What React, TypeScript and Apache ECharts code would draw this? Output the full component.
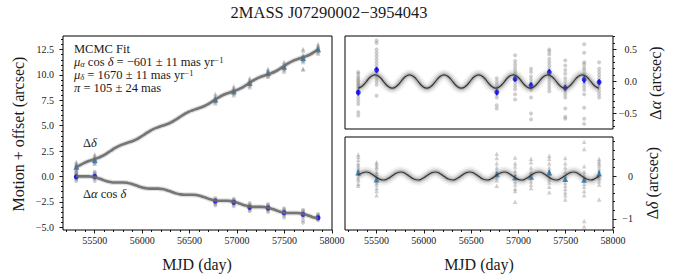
import React, { useEffect, useRef } from 'react';
import * as echarts from 'echarts';

const FONT = 'Liberation Serif';

// ---- data ----
const epochs = [55306, 55500, 56771, 56965, 57133, 57326, 57495, 57695, 57853];

// left panel (motion + offset)
const decLeft = [0.96, 1.62, 7.58, 8.4, 9.22, 10.2, 10.8, 11.67, 12.53];
const raLeft = [-0.03, 0.0, -2.42, -2.54, -3.04, -3.1, -3.57, -3.73, -4.06];
const decGrayLeft = [
  [1.45, 1.3, 1.2, 1.1, 1.02, 0.95, 0.88, 0.8, 0.7, 0.55],
  [2.2, 2.05, 1.9, 1.8, 1.7, 1.62, 1.55, 1.45, 1.35, 1.25],
  [8.15, 7.95, 7.8, 7.7, 7.6, 7.52, 7.45, 7.35, 7.22],
  [8.9, 8.75, 8.6, 8.5, 8.42, 8.35, 8.25, 8.15, 8.0],
  [9.7, 9.55, 9.42, 9.32, 9.25, 9.17, 9.08, 8.95, 8.8],
  [10.62, 10.5, 10.38, 10.3, 10.22, 10.15, 10.05, 9.92, 9.82],
  [11.3, 11.12, 10.98, 10.88, 10.8, 10.72, 10.62, 10.5, 10.35],
  [12.55, 12.4, 12.0, 11.85, 11.75, 11.68, 11.6, 11.5, 11.4, 11.28, 10.62, 10.55],
  [13.05, 12.9, 12.8, 12.7, 12.62, 12.55, 12.48, 12.38, 12.25, 12.12],
];
const raGrayLeft = [
  [0.45, 0.3, 0.2, 0.12, 0.05, -0.02, -0.1, -0.18, -0.28, -0.45],
  [0.48, 0.35, 0.25, 0.15, 0.08, 0.02, -0.05, -0.12, -0.22, -0.45],
  [-2.12, -2.25, -2.32, -2.38, -2.43, -2.5, -2.58, -2.7, -2.85],
  [-2.2, -2.3, -2.4, -2.46, -2.52, -2.58, -2.65, -2.78, -2.93],
  [-2.62, -2.75, -2.85, -2.95, -3.02, -3.08, -3.15, -3.3, -3.42],
  [-2.7, -2.82, -2.92, -3.0, -3.07, -3.14, -3.22, -3.35, -3.5],
  [-3.12, -3.25, -3.38, -3.48, -3.55, -3.62, -3.7, -3.85, -4.05],
  [-3.28, -3.4, -3.52, -3.62, -3.7, -3.78, -3.86, -4.0, -4.3, -4.55],
  [-3.68, -3.8, -3.9, -3.98, -4.05, -4.12, -4.2, -4.3],
];

// right top (parallax in RA)
const raResid = [-0.17, 0.18, -0.165, 0.04, -0.06, 0.145, -0.1, 0.03, -0.01];
const raResidErr = [0.05, 0.05, 0.05, 0.045, 0.05, 0.05, 0.05, 0.055, 0.05];
const raGray = [
  [0.15, 0.12, 0.08, 0.05, 0.02, 0, -0.03, -0.05, -0.08, -0.1, -0.13, -0.15, -0.2, -0.25, -0.3, -0.35, -0.48, -0.53],
  [0.64, 0.6, 0.5, 0.45, 0.4, 0.35, 0.3, 0.25, 0.2, 0.15, 0.1, 0.05, 0.0, -0.05, -0.22],
  [0.05, 0.0, -0.05, -0.1, -0.15, -0.2, -0.25, -0.37, -0.42],
  [0.41, 0.32, 0.27, 0.22, 0.17, 0.12, 0.08, 0.03, -0.02, -0.07, -0.12, -0.2, -0.28],
  [0.2, 0.15, 0.08, 0.03, -0.02, -0.08, -0.13, -0.25, -0.5, -0.59],
  [0.5, 0.47, 0.42, 0.35, 0.3, 0.25, 0.2, 0.15, 0.1, 0.05, 0, -0.05, -0.1, -0.15],
  [0.33, 0.25, 0.18, 0.12, 0.05, 0, -0.05, -0.1, -0.15, -0.2, -0.25, -0.42, -0.55, -0.58],
  [0.58, 0.45, 0.3, 0.27, 0.22, 0.18, 0.12, 0.07, 0.02, -0.03, -0.08, -0.13, -0.2, -0.41, -0.58, -0.66],
  [0.3, 0.2, 0.15, 0.1, 0.05, 0.0, -0.05, -0.1, -0.15, -0.2, -0.25],
];

// right bottom (parallax in Dec)
const decResid = [0.08, -0.08, 0.04, -0.03, -0.015, 0.08, -0.07, -0.09, 0.06];
const decResidErr = [0.06, 0.06, 0.05, 0.05, 0.05, 0.06, 0.05, 0.05, 0.06];
const decGray = [
  [0.5, 0.45, 0.38, 0.3, 0.25, 0.2, 0.15, 0.1, 0.05, 0, -0.05, -0.1, -0.18, -0.23],
  [0.32, 0.28, 0.22, 0.18, 0.1, 0.05, 0, -0.05, -0.1, -0.15, -0.2, -0.28, -0.35, -0.45],
  [0.52, 0.42, 0.3, 0.2, 0.12, 0.05, -0.03, -0.1, -0.23],
  [0.43, 0.3, 0.22, 0.12, 0.05, -0.05, -0.12, -0.2, -0.3, -0.35, -0.6],
  [0.4, 0.32, 0.2, 0.1, 0.05, 0, -0.05, -0.12, -0.2, -0.28],
  [0.47, 0.4, 0.3, 0.2, 0.12, 0.05, 0, -0.08, -0.15, -0.25, -0.38],
  [0.42, 0.3, 0.2, 0.1, 0, -0.08, -0.15, -0.22, -0.3, -0.38, -0.45, -0.55],
  [0.8, 0.63, 0.23, 0.1, 0.02, -0.05, -0.1, -0.18, -0.25, -0.35, -0.45, -1.05, -1.18],
  [0.4, 0.35, 0.3, 0.25, 0.18, 0.12, 0.05, 0, -0.05, -0.12, -0.2, -0.55],
];

// MCMC model curves (read at eighth-year steps)
const modelMJD = [55306, 55346, 55392, 55437,
  55483, 55529, 55574, 55620, 55666, 55711, 55757, 55803,
  55848, 55894, 55940, 55985, 56031, 56077, 56122, 56168,
  56213, 56259, 56305, 56350, 56396, 56442, 56487, 56533,
  56579, 56624, 56670, 56716, 56761, 56807, 56853, 56898,
  56944, 56990, 57035, 57081, 57127, 57172, 57218, 57264,
  57309, 57355, 57401, 57446, 57492, 57538, 57583, 57629,
  57674, 57720, 57766, 57811, 57853];
const modelRaResid = [-0.103, -0.074, 0, 0.074,
  0.104, 0.074, 0, -0.074, -0.104, -0.074, 0, 0.074,
  0.104, 0.074, 0, -0.074, -0.104, -0.074, 0, 0.074,
  0.104, 0.074, 0, -0.074, -0.104, -0.074, 0, 0.074,
  0.104, 0.074, 0, -0.074, -0.104, -0.074, 0, 0.074,
  0.104, 0.074, 0, -0.074, -0.104, -0.074, 0, 0.074,
  0.104, 0.074, 0, -0.074, -0.104, -0.074, 0, 0.074,
  0.104, 0.074, 0, -0.074, -0.104];
const modelDecResid = [0.022, 0.071, 0.093, 0.06,
  -0.007, -0.071, -0.093, -0.06, 0.007, 0.071, 0.093, 0.06,
  -0.007, -0.071, -0.093, -0.06, 0.007, 0.071, 0.093, 0.06,
  -0.007, -0.071, -0.093, -0.06, 0.007, 0.071, 0.093, 0.06,
  -0.007, -0.071, -0.093, -0.06, 0.007, 0.071, 0.093, 0.06,
  -0.007, -0.071, -0.093, -0.06, 0.007, 0.071, 0.093, 0.06,
  -0.007, -0.071, -0.093, -0.06, 0.007, 0.071, 0.093, 0.06,
  -0.007, -0.071, -0.093, -0.06, 0.007];
const modelRaTotal = [0.047, 0.01, 0.009, 0.008,
  -0.037, -0.142, -0.291, -0.441, -0.546, -0.591, -0.592, -0.593,
  -0.638, -0.743, -0.892, -1.041, -1.146, -1.192, -1.193, -1.194,
  -1.239, -1.344, -1.493, -1.642, -1.747, -1.792, -1.794, -1.795,
  -1.84, -1.945, -2.094, -2.243, -2.348, -2.393, -2.394, -2.395,
  -2.441, -2.546, -2.695, -2.844, -2.949, -2.994, -2.995, -2.996,
  -3.041, -3.147, -3.296, -3.445, -3.55, -3.595, -3.596, -3.597,
  -3.642, -3.747, -3.896, -4.046, -4.144];
const modelDecTotal = [0.882, 1.114, 1.345, 1.521,
  1.662, 1.807, 1.994, 2.235, 2.511, 2.784, 3.015, 3.19,
  3.332, 3.477, 3.664, 3.905, 4.181, 4.454, 4.685, 4.86,
  5.002, 5.147, 5.334, 5.575, 5.851, 6.124, 6.355, 6.53,
  6.672, 6.817, 7.004, 7.245, 7.521, 7.794, 8.024, 8.2,
  8.342, 8.487, 8.673, 8.915, 9.191, 9.464, 9.694, 9.87,
  10.012, 10.157, 10.343, 10.585, 10.861, 11.134, 11.364, 11.54,
  11.682, 11.827, 12.013, 12.255, 12.512];

// ticks
const xMajor = [55500, 56000, 56500, 57000, 57500, 58000];
const xMinor = [55200, 55300, 55400, 55600, 55700, 55800, 55900, 56100, 56200, 56300, 56400, 56600, 56700, 56800, 56900, 57100, 57200, 57300, 57400, 57600, 57700, 57800, 57900];
const leftYMajor = [-5, -2.5, 0, 2.5, 5, 7.5, 10, 12.5];
const leftYMinor = [-4.5, -4, -3.5, -3, -2, -1.5, -1, -0.5, 0.5, 1, 1.5, 2, 3, 3.5, 4, 4.5, 5.5, 6, 6.5, 7, 8, 8.5, 9, 9.5, 10.5, 11, 11.5, 12, 13, 13.5];
const topYMajor = [-0.5, 0, 0.5];
const topYMinor = [-0.7, -0.6, -0.4, -0.3, -0.2, -0.1, 0.1, 0.2, 0.3, 0.4, 0.6, 0.7];
const botYMajor = [-1, 0];
const botYMinor = [-1.2, -0.8, -0.6, -0.4, -0.2, 0.2, 0.4, 0.6, 0.8];

const X_MIN = 55166;
const X_MAX = 58000;

const GRAY = 'rgba(120,120,120,0.45)';
const TAB_BLUE = '#1f77b4';
const BLUE = '#0000ff';
const INK = '#1a1a1a';
const SMOOTH = 0.5;

const fmt1 = (v: number) => (v < 0 ? '\u2212' : '') + Math.abs(v).toFixed(1);
const fmt0 = (v: number) => (v < 0 ? '\u2212' : '') + Math.abs(v).toFixed(0);

const pairs = (xs: number[], ys: number[]) => xs.map((x, i) => [x, ys[i]]);
const grayPts = (lists: number[][]) => lists.flatMap((l, i) => l.map((v) => [epochs[i], v]));
const errPts = (ys: number[], es: number[]) => epochs.map((x, i) => [x, ys[i], es[i]]);

const tickLine = { color: '#000', width: 0.9 };
const labelStyle = { fontSize: 10, color: INK, fontFamily: FONT };

function xAxes(grid: number, labels: boolean) {
  return [
    {
      type: 'value', gridIndex: grid, min: X_MIN, max: X_MAX, position: 'bottom',
      axisLine: { show: false, onZero: false }, splitLine: { show: false },
      axisTick: { show: true, length: 3.5, customValues: xMajor, lineStyle: tickLine },
      axisLabel: labels
        ? { show: true, customValues: xMajor, margin: 5, ...labelStyle, formatter: (v: number) => String(v) }
        : { show: false },
    },
    {
      type: 'value', gridIndex: grid, min: X_MIN, max: X_MAX, position: 'bottom',
      axisLine: { show: false, onZero: false }, splitLine: { show: false },
      axisTick: { show: true, length: 2, customValues: xMinor, lineStyle: tickLine },
      axisLabel: { show: false },
    },
  ];
}

function yAxes(grid: number, pos: string, min: number, max: number, major: number[], minor: number[], fmt: (v: number) => string, margin: number, align: string) {
  return [
    {
      type: 'value', gridIndex: grid, min, max, position: pos,
      axisLine: { show: false, onZero: false }, splitLine: { show: false },
      axisTick: { show: true, length: 3.5, customValues: major, lineStyle: tickLine },
      axisLabel: { show: true, customValues: major, margin, align, ...labelStyle, formatter: fmt },
    },
    {
      type: 'value', gridIndex: grid, min, max, position: pos,
      axisLine: { show: false, onZero: false }, splitLine: { show: false },
      axisTick: { show: true, length: 2, customValues: minor, lineStyle: tickLine },
      axisLabel: { show: false },
    },
  ];
}

function errorBars(name: string, xi: number, yi: number, data: number[][], color: string) {
  return {
    type: 'custom', name, xAxisIndex: xi, yAxisIndex: yi, data, encode: { x: 0, y: 1 },
    renderItem: (params: any, api: any) => {
      const x = api.value(0);
      const y = api.value(1);
      const e = api.value(2);
      const p1 = api.coord([x, y - e]);
      const p2 = api.coord([x, y + e]);
      return { type: 'line', shape: { x1: p1[0], y1: p1[1], x2: p2[0], y2: p2[1] }, style: { stroke: color, lineWidth: 1.6 } };
    },
  };
}

function modelBand(xi: number, yi: number, data: number[][]) {
  const base = { type: 'line', xAxisIndex: xi, yAxisIndex: yi, data, smooth: SMOOTH, showSymbol: false, symbol: 'none', silent: true };
  return [
    { ...base, lineStyle: { width: 11, color: 'rgba(128,128,128,0.10)' } },
    { ...base, lineStyle: { width: 7, color: 'rgba(120,120,120,0.18)' } },
    { ...base, lineStyle: { width: 4, color: 'rgba(110,110,110,0.30)' } },
    { ...base, lineStyle: { width: 1.2, color: '#333' } },
  ];
}

function leftModel(data: number[][]) {
  const base = { type: 'line', xAxisIndex: 0, yAxisIndex: 0, data, smooth: SMOOTH, showSymbol: false, symbol: 'none', silent: true };
  return [
    { ...base, lineStyle: { width: 5, color: 'rgba(128,128,128,0.25)' } },
    { ...base, lineStyle: { width: 2.6, color: 'rgba(105,105,105,0.9)' } },
  ];
}

const MFS = 12.5;
const LH = 13;
const richMath = {
  i: { fontStyle: 'italic', fontFamily: FONT, fontSize: MFS, lineHeight: LH, fill: INK },
  n: { fontFamily: FONT, fontSize: MFS, lineHeight: LH, fill: INK },
  sub: { fontStyle: 'italic', fontFamily: FONT, fontSize: 8.5, lineHeight: 8, verticalAlign: 'bottom', fill: INK },
  sup: { fontFamily: FONT, fontSize: 8.5, lineHeight: 8, verticalAlign: 'top', fill: INK },
};

function txt(x: number, y: number, text: string, vAlign = 'middle') {
  return {
    type: 'text', x, y, silent: true,
    style: {
      text, fontFamily: FONT, fontSize: MFS, fill: INK, lineHeight: LH,
      align: 'left', verticalAlign: vAlign, rich: richMath,
    },
  };
}

function plain(x: number, y: number, text: string, fontSize: number, extra: any = {}) {
  const { align, ...rest } = extra;
  return {
    type: 'text', x, y, silent: true, ...rest,
    style: { text, fontFamily: FONT, fontSize, lineHeight: fontSize, fill: INK, align: align || 'left', verticalAlign: 'middle' },
  };
}

function rotName(x: number, y: number, greek: string) {
  return {
    type: 'text', x, y, rotation: Math.PI / 2, silent: true,
    style: {
      text: `{n|\u0394}{i|${greek}}{n| (arcsec)}`, align: 'center', verticalAlign: 'middle', fontFamily: FONT, fontSize: 16, fill: INK,
      rich: { n: { fontFamily: FONT, fontSize: 16, fill: INK }, i: { fontFamily: FONT, fontSize: 16, fontStyle: 'italic', fill: INK } },
    },
  };
}

const fitText = [
  '{n|MCMC Fit}',
  '{i|\u03bc}{sub|\u03b1}{n| cos }{i|\u03b4}{n| = \u2212601 \u00b1 11 mas yr}{sup|\u22121}',
  '{i|\u03bc}{sub|\u03b4}{n| = 1670 \u00b1 11 mas yr}{sup|\u22121}',
  '{i|\u03c0}{n| = 105 \u00b1 24 mas}',
].join('\n');

export default function App() {
  const ref = useRef<HTMLDivElement>(null);
  useEffect(() => {
    if (!ref.current) return;
    const chart = echarts.init(ref.current, null, { renderer: 'svg' });
    const option: any = {
      animation: false,
      backgroundColor: '#fff',
      textStyle: { fontFamily: FONT },
      grid: [
        { left: 63, top: 36, width: 269, height: 194, show: true, borderColor: '#000', borderWidth: 1, backgroundColor: 'transparent' },
        { left: 345, top: 36, width: 268, height: 93, show: true, borderColor: '#000', borderWidth: 1, backgroundColor: 'transparent' },
        { left: 345, top: 137, width: 268, height: 93, show: true, borderColor: '#000', borderWidth: 1, backgroundColor: 'transparent' },
      ],
      xAxis: [
        ...xAxes(0, true),
        { type: 'value', gridIndex: 1, min: X_MIN, max: X_MAX, show: false, axisLine: { onZero: false } },
        ...xAxes(2, true),
      ],
      yAxis: [
        ...yAxes(0, 'left', -5.27, 13.84, leftYMajor, leftYMinor, fmt1, 9, 'right'),
        ...yAxes(1, 'right', -0.74, 0.71, topYMajor, topYMinor, fmt1, 24, 'right'),
        ...yAxes(2, 'right', -1.26, 0.91, botYMajor, botYMinor, fmt0, 20, 'right'),
      ],
      series: [
        // left panel
        { type: 'scatter', xAxisIndex: 0, yAxisIndex: 0, data: grayPts(decGrayLeft), symbol: 'triangle', symbolSize: 4.5, itemStyle: { color: GRAY } },
        { type: 'scatter', xAxisIndex: 0, yAxisIndex: 0, data: grayPts(raGrayLeft), symbol: 'circle', symbolSize: 4, itemStyle: { color: GRAY } },
        ...leftModel(pairs(modelMJD, modelDecTotal)),
        ...leftModel(pairs(modelMJD, modelRaTotal)),
        { type: 'scatter', xAxisIndex: 0, yAxisIndex: 0, data: pairs(epochs, decLeft), symbol: 'triangle', symbolSize: 6, itemStyle: { color: TAB_BLUE } },
        { type: 'scatter', xAxisIndex: 0, yAxisIndex: 0, data: pairs(epochs, raLeft), symbol: 'circle', symbolSize: 5, itemStyle: { color: BLUE } },
        // right top
        { type: 'scatter', xAxisIndex: 2, yAxisIndex: 2, data: grayPts(raGray), symbol: 'circle', symbolSize: 4, itemStyle: { color: GRAY } },
        ...modelBand(2, 2, pairs(modelMJD, modelRaResid)),
        errorBars('raErr', 2, 2, errPts(raResid, raResidErr), BLUE),
        { type: 'scatter', xAxisIndex: 2, yAxisIndex: 2, data: pairs(epochs, raResid), symbol: 'circle', symbolSize: 5, itemStyle: { color: BLUE } },
        // right bottom
        { type: 'scatter', xAxisIndex: 3, yAxisIndex: 4, data: grayPts(decGray), symbol: 'triangle', symbolSize: 4.5, itemStyle: { color: GRAY } },
        ...modelBand(3, 4, pairs(modelMJD, modelDecResid)),
        errorBars('decErr', 3, 4, errPts(decResid, decResidErr), TAB_BLUE),
        { type: 'scatter', xAxisIndex: 3, yAxisIndex: 4, data: pairs(epochs, decResid), symbol: 'triangle', symbolSize: 6, itemStyle: { color: TAB_BLUE } },
      ],
      graphic: [
        plain(329, 12, '2MASS J07290002\u22123954043', 16.5, { align: 'center' }),
        txt(74, 42.5, fitText, 'top'),
        txt(83, 143, '{n|\u0394}{i|\u03b4}'),
        txt(83, 194, '{n|\u0394}{i|\u03b1}{n| cos }{i|\u03b4}'),
        plain(197, 264, 'MJD (day)', 16, { align: 'center' }),
        plain(479, 264, 'MJD (day)', 16, { align: 'center' }),
        plain(18, 134, 'Motion + offset (arcsec)', 16, { align: 'center', rotation: Math.PI / 2 }),
        rotName(655, 83, '\u03b1'),
        rotName(652, 183, '\u03b4'),
      ],
    };
    chart.setOption(option);
    return () => chart.dispose();
  }, []);
  return <div ref={ref} style={{ position: 'fixed', left: 0, top: 0, width: 677, height: 280, background: '#fff' }} />;
}
